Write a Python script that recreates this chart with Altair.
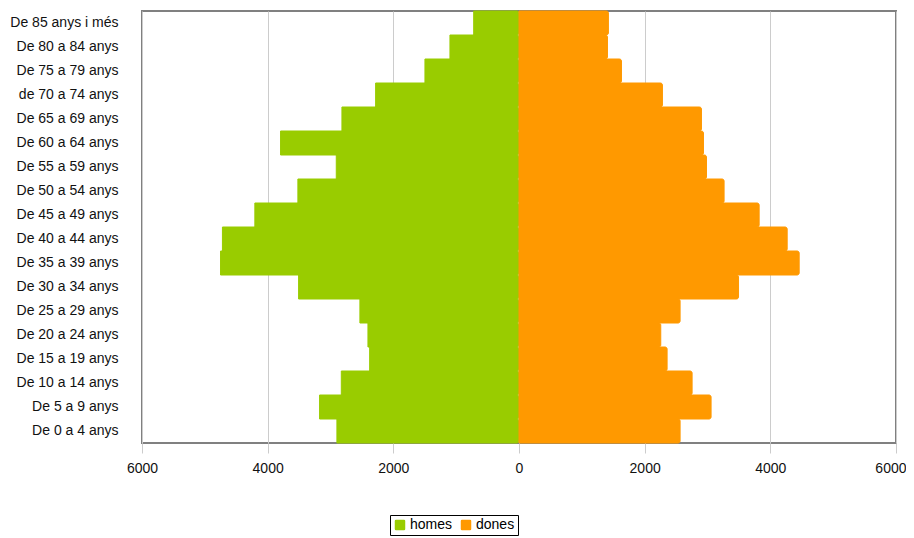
import altair as alt
import pandas as pd

groups = ["De 85 anys i més", "De 80 a 84 anys", "De 75 a 79 anys", "de 70 a 74 anys",
          "De 65 a 69 anys", "De 60 a 64 anys", "De 55 a 59 anys", "De 50 a 54 anys",
          "De 45 a 49 anys", "De 40 a 44 anys", "De 35 a 39 anys", "De 30 a 34 anys",
          "De 25 a 29 anys", "De 20 a 24 anys", "De 15 a 19 anys", "De 10 a 14 anys",
          "De 5 a 9 anys", "De 0 a 4 anys"]
homes = [721, 1099, 1497, 2282, 2818, 3795, 2908, 3519, 4204, 4720, 4750, 3508,
         2532, 2404, 2377, 2828, 3174, 2898]
dones = [1423, 1408, 1631, 2283, 2904, 2936, 2984, 3264, 3822, 4268, 4459, 3494,
         2564, 2256, 2357, 2755, 3057, 2564]
series = ["homes", "dones"]
colors = ["#99CC00", "#FF9900"]
x_ticks = [-6000, -4000, -2000, 0, 2000, 4000, 6000]

rows = []
for g, h, d in zip(groups, homes, dones):
    rows.append({"grup": g, "sexe": "homes", "valor": -h})
    rows.append({"grup": g, "sexe": "dones", "valor": d})
df = pd.DataFrame(rows)

FONT = "Liberation Sans"
rounded_square = ("M-0.75,-1 L0.75,-1 Q1,-1 1,-0.75 L1,0.75 Q1,1 0.75,1 L-0.75,1 "
                  "Q-1,1 -1,0.75 L-1,-0.75 Q-1,-1 -0.75,-1 Z")

color_scale = alt.Scale(domain=series, range=colors)

chart = alt.Chart(df).mark_bar(cornerRadiusEnd=2, strokeWidth=1).encode(
    y=alt.Y("grup:N", sort=groups,
            scale=alt.Scale(paddingInner=0, paddingOuter=0),
            axis=alt.Axis(title=None, ticks=False, domain=False, grid=False,
                          labelPadding=24, labelFontSize=14, labelFont=FONT,
                          labelColor="#111111", labelFontWeight="normal")),
    x=alt.X("valor:Q", stack=None,
            scale=alt.Scale(domain=[-6000, 6000], nice=False, zero=False),
            axis=alt.Axis(title=None, values=x_ticks,
                          labelExpr="format(abs(datum.value), 'd')",
                          labelFlush=False, labelBound=False,
                          labelAlign=alt.condition("datum.value >= 6000",
                                                   alt.value("right"), alt.value("center")),
                          labelOffset=alt.condition("datum.value >= 6000",
                                                    alt.value(10), alt.value(0)),
                          domain=False, tickColor="#cccccc", tickSize=10,
                          gridColor="#cccccc", gridWidth=1, labelPadding=8,
                          labelFontSize=14, labelFont=FONT, labelColor="#111111")),
    color=alt.Color("sexe:N", scale=color_scale,
                    legend=alt.Legend(title=None, orient="none", legendX=248, legendY=504,
                                      direction="horizontal", strokeColor="#000000",
                                      fillColor="#ffffff", padding=3,
                                      symbolType=rounded_square, symbolSize=110,
                                      symbolStrokeWidth=0, symbolOpacity=1,
                                      labelFontSize=14, labelFont=FONT, labelColor="#000000",
                                      labelOffset=3, columnPadding=6)),
    stroke=alt.Stroke("sexe:N", scale=color_scale, legend=None),
).properties(
    width=754, height=432,
    padding={"left": 134, "top": 3, "right": 10, "bottom": 95},
    autosize=alt.AutoSizeParams(type="none"),
).configure_view(stroke="#808080", strokeWidth=2)

chart.save("out.html", embed_options={"renderer": "svg", "actions": False})
